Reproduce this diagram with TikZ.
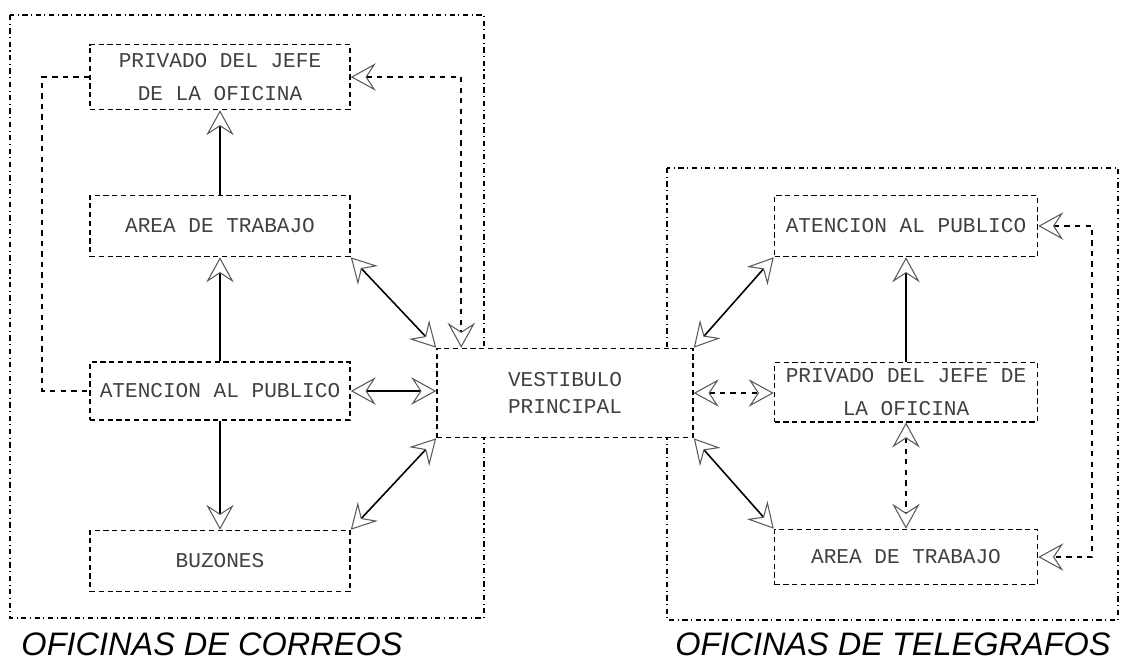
\documentclass[tikz,border=0pt]{standalone}
\usepackage{fontspec}
\setmonofont{Liberation Mono}
\setsansfont{Liberation Sans}
\usetikzlibrary{arrows.meta,calc,positioning}
\tikzset{
    myroom/.style={draw=black,line width=0.9pt,densely dashed,fill=white,minimum width=5.2cm,
      minimum height=1.22cm,align=center,text=black!75,
      font=\ttfamily\fontsize{12}{19}\selectfont},
    myzone/.style={draw=black,line width=0.6pt,dash dot},
    myedge/.style={line width=0.9pt,draw=black},
    myloop/.style={line width=1.1pt,draw=black,dashed},
    mytitle/.style={font=\sffamily\itshape\fontsize{18.5}{22}\selectfont},
    >={Stealth[open,length=5mm,width=5.5mm,inset=1.8mm,line width=0.6pt,color=black!65]}
}

\begin{document}
\begin{tikzpicture}[x=0.02cm,y=-0.02cm]
  \useasboundingbox (0,0) rectangle (1148,667);

  % zonas
  \draw[myzone] (10,15) rectangle (484,618);
  \draw[myzone] (667,168) rectangle (1118,620);

  % correos
  \node[myroom,minimum height=1.3cm] (privC) at (220,77) {PRIVADO DEL JEFE\\DE LA OFICINA};
  \node[myroom] (areaC) at (220,226) {AREA DE TRABAJO};
  \node[myroom,minimum height=1.16cm] (atenC) at (220,391) {ATENCION AL PUBLICO};
  \node[myroom] (buzC) at (220,561) {BUZONES};

  % vestibulo
  \node[myroom,minimum width=5.12cm,minimum height=1.78cm,
    font=\ttfamily\fontsize{12}{15}\selectfont] (vest) at (565,393) {VESTIBULO\\PRINCIPAL};

  % telegrafos
  \node[myroom,minimum width=5.26cm] (atenT) at (906,226) {ATENCION AL PUBLICO};
  \node[myroom,minimum width=5.26cm,minimum height=1.18cm] (privT) at (906,392) {PRIVADO DEL JEFE DE\\LA OFICINA};
  \node[myroom,minimum width=5.26cm,minimum height=1.1cm] (areaT) at (906,557) {AREA DE TRABAJO};

  % conexiones correos
  \draw[myedge,->] (areaC) -- (privC);
  \draw[myedge,->] (atenC) -- (areaC);
  \draw[myedge,->] (atenC) -- (buzC);
  \draw[myedge,<->] (atenC.east) -- (atenC.east -| vest.west);
  \draw[myedge,<->] (areaC.south east) -- (vest.north west);
  \draw[myedge,<->] (buzC.north east) -- (vest.south west);
  \draw[myloop] (privC.west) -- ++(-47,0) |- (atenC.west);
  \draw[myloop,<->] (privC.east) -| ($(vest.north west)+(25,0)$);

  % conexiones telegrafos
  \draw[myedge,<->] (vest.north east) -- (atenT.south west);
  \draw[myedge,<->] (vest.south east) -- (areaT.north west);
  \draw[myloop,<->] (vest.east) -- (vest.east -| privT.west);
  \draw[myedge,->] (privT) -- (atenT);
  \draw[myloop,<->] (privT) -- (areaT);
  \draw[myloop,<->] (atenT.east) -- ++(54,0) |- (areaT.east);

  \node[mytitle] (tcorreos) at (212,644) {OFICINAS DE CORREOS};
  \node[mytitle] (ttelegrafos) at (893,644) {OFICINAS DE TELEGRAFOS};
\end{tikzpicture}
\end{document}
